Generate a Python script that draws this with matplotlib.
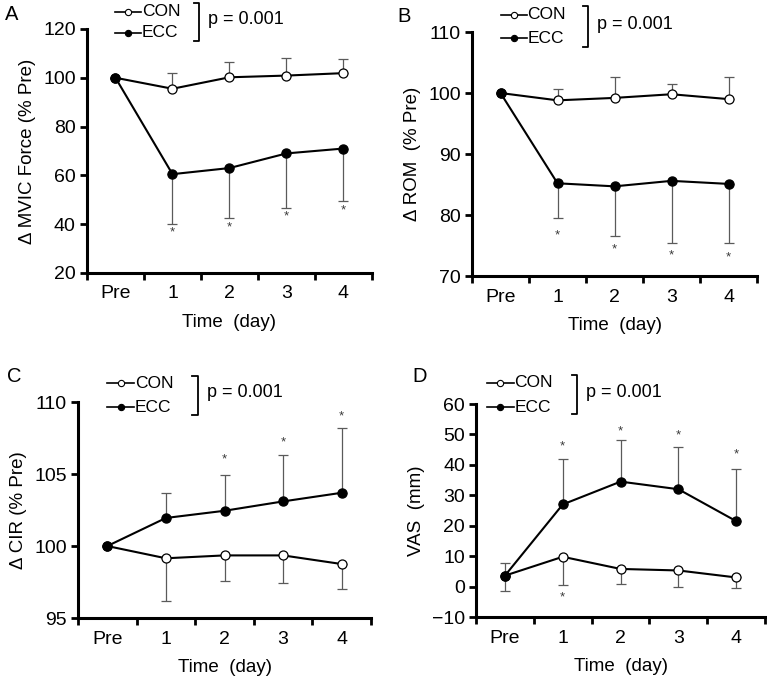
import numpy as np
import matplotlib
matplotlib.use("Agg")
import matplotlib.pyplot as plt

plt.rcParams['font.family'] = ['Liberation Sans', 'DejaVu Sans']

# categorias del eje x
dias = ["Pre", "1", "2", "3", "4"]

# Panel A: MVIC force (% Pre)
a_con = [100, 95.5, 100.2, 100.9, 101.9]
a_con_err = [0, 6.5, 6.3, 7.2, 5.9]
a_ecc = [100, 60.5, 63.0, 69.0, 71.0]
a_ecc_err = [0, 20.5, 20.5, 22.3, 21.6]
a_star = [None, 36.5, 38.5, 43.0, 45.5]

# Panel B: ROM (% Pre)
b_con = [100, 98.8, 99.2, 99.8, 99.0]
b_con_err = [0, 1.9, 3.4, 1.7, 3.6]
b_ecc = [100, 85.2, 84.7, 85.6, 85.1]
b_ecc_err = [0, 5.7, 8.2, 10.2, 9.7]
b_star = [None, 76.6, 74.4, 73.3, 73.0]

# Panel C: CIR (% Pre)
c_con = [100, 99.15, 99.35, 99.35, 98.75]
c_con_err = [0, 2.95, 1.75, 1.9, 1.7]
c_ecc = [100, 101.95, 102.45, 103.1, 103.7]
c_ecc_err = [0, 1.7, 2.5, 3.2, 4.5]
c_star = [None, None, 106.0, 107.2, 109.0]

# Panel D: VAS (mm)
d_con = [3.6, 9.8, 5.8, 5.3, 3.0]
d_con_err = [5.1, 9.2, 5.1, 5.4, 3.5]
d_ecc = [3.6, 27.0, 34.5, 32.0, 21.5]
d_ecc_err = [4.3, 15.0, 13.8, 13.9, 17.1]
d_star_ecc = [None, 46.0, 51.0, 49.7, 43.3]
d_star_con = [None, -3.7, None, None, None]

x = np.arange(len(dias))
err_col = "#5a5a5a"


def panel(ax, con, con_err, con_dir, ecc, ecc_err, ecc_dir, ylim, yticks, ylabel):
    ax.errorbar(x, con, yerr=[con_err if con_dir == "down" else [0]*5,
                              con_err if con_dir == "up" else [0]*5],
                fmt="none", ecolor=err_col, elinewidth=0.9, capsize=3.5, capthick=0.9, zorder=1)
    ax.errorbar(x, ecc, yerr=[ecc_err if ecc_dir == "down" else [0]*5,
                              ecc_err if ecc_dir == "up" else [0]*5],
                fmt="none", ecolor=err_col, elinewidth=0.9, capsize=3.5, capthick=0.9, zorder=1)
    ax.plot(x, con, color="black", lw=1.5, marker="o", ms=6.5, mfc="white", mec="black", mew=0.9, zorder=3)
    ax.plot(x, ecc, color="black", lw=1.5, marker="o", ms=6.5, mfc="black", mec="black", zorder=3)
    ax.set_xlim(-0.5, 4.5)
    ax.set_ylim(*ylim)
    ax.set_yticks(yticks)
    ax.set_xticks(x)
    ax.set_xticklabels(dias)
    ax.set_xticks(np.arange(-0.5, 5, 1), minor=True)
    ax.tick_params(axis="x", which="major", length=0, labelsize=14, pad=9)
    ax.tick_params(axis="x", which="minor", length=5, width=2)
    ax.tick_params(axis="y", length=5, width=2, labelsize=14, pad=3)
    for s in ["top", "right"]:
        ax.spines[s].set_visible(False)
    for s in ["left", "bottom"]:
        ax.spines[s].set_linewidth(2.2)
    ax.set_ylabel(ylabel, fontsize=13.5, labelpad=5)
    ax.set_xlabel("Time  (day)", fontsize=13.5, labelpad=8)


def leyenda(ax, x0, y1, y2, bx):
    # leyenda dibujada a mano con corchete y valor p
    for yy, fc, lab in [(y1, "white", "CON"), (y2, "black", "ECC")]:
        ax.plot([x0, x0 + 0.092], [yy, yy], color="black", lw=1.2, transform=ax.transAxes, clip_on=False)
        ax.plot([x0 + 0.046], [yy], marker="o", ms=4.5, mfc=fc, mec="black", mew=0.8,
                transform=ax.transAxes, clip_on=False)
        ax.text(x0 + 0.094, yy, lab, fontsize=12.5, va="center", ha="left", transform=ax.transAxes)
    ax.plot([bx, bx + 0.018, bx + 0.018, bx], [y1 + 0.035, y1 + 0.035, y2 - 0.035, y2 - 0.035],
            color="black", lw=1.3, transform=ax.transAxes, clip_on=False)
    ax.text(bx + 0.05, (y1 + y2) / 2 + 0.01, "p = 0.001", fontsize=13, va="center", ha="left",
            transform=ax.transAxes)


def estrellas(ax, vals):
    for xi, v in zip(x, vals):
        if v is not None:
            ax.text(xi, v, "*", fontsize=9.5, color="#3a3a3a", ha="center", va="center")


fig = plt.figure(figsize=(7.67, 6.77), dpi=100)
axA = fig.add_axes([0.1134, 0.5968, 0.3716, 0.3604])
axB = fig.add_axes([0.6154, 0.5923, 0.3716, 0.3604])
axC = fig.add_axes([0.1017, 0.0871, 0.3820, 0.3190])
axD = fig.add_axes([0.6206, 0.0886, 0.3770, 0.3146])

panel(axA, a_con, a_con_err, "up", a_ecc, a_ecc_err, "down", (20, 120), range(20, 121, 20),
      "Δ MVIC Force (% Pre)")
panel(axB, b_con, b_con_err, "up", b_ecc, b_ecc_err, "down", (70, 110), range(70, 111, 10),
      "Δ ROM  (% Pre)")
panel(axC, c_con, c_con_err, "down", c_ecc, c_ecc_err, "up", (95, 110), range(95, 111, 5),
      "Δ CIR (% Pre)")
panel(axD, d_con, d_con_err, "down", d_ecc, d_ecc_err, "up", (-10, 60), range(-10, 61, 10),
      "VAS  (mm)")

estrellas(axA, a_star)
estrellas(axB, b_star)
estrellas(axC, c_star)
estrellas(axD, d_star_ecc)
estrellas(axD, d_star_con)

leyenda(axA, 0.098, 1.07, 0.984, 0.375)
leyenda(axB, 0.10, 1.07, 0.975, 0.39)
leyenda(axC, 0.10, 1.088, 0.977, 0.39)
leyenda(axD, 0.038, 1.099, 0.986, 0.332)

fig.text(12 / 767, 1 - 14 / 677, "A", fontsize=14.5, ha="center", va="center")
fig.text(404 / 767, 1 - 16 / 677, "B", fontsize=14.5, ha="center", va="center")
fig.text(14 / 767, 1 - 377 / 677, "C", fontsize=14.5, ha="center", va="center")
fig.text(420 / 767, 1 - 377 / 677, "D", fontsize=14.5, ha="center", va="center")

fig.savefig("out.png", dpi=100)
